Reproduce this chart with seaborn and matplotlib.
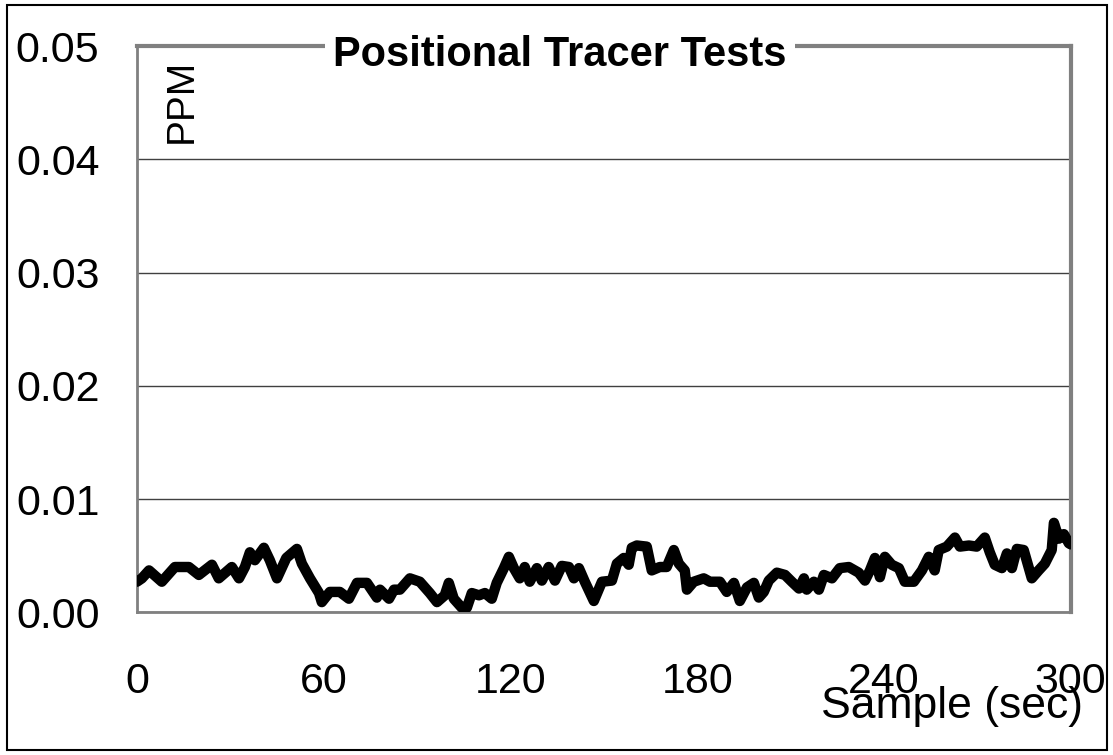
import numpy as np
import pandas as pd
import matplotlib
matplotlib.use("Agg")
import matplotlib.pyplot as plt
import seaborn as sns
from matplotlib.patches import Rectangle

# values (seconds, ppm)
seconds = [
    0, 1.6, 3.9, 8.0, 12.2, 16.7, 19.9, 24.1, 26.3, 30.5, 32.8, 34.7, 36.3,
    37.9, 40.8, 42.7, 45.0, 48.0, 51.4, 53.0, 55.6, 58.5, 59.4, 62.0, 65.2,
    68.1, 70.7, 73.9, 77.1, 78.1, 81.0, 82.6, 84.5, 87.7, 90.9, 94.1, 96.4,
    98.9, 100.2, 101.8, 104.4, 106.0, 107.6, 109.9, 111.8, 114.0, 115.6,
    117.9, 119.5, 121.1, 123.0, 124.6, 126.2, 128.5, 130.1, 132.3, 134.3,
    136.5, 138.8, 140.4, 142.0, 143.9, 146.8, 149.4, 152.6, 154.2, 156.4,
    158.0, 159.0, 160.6, 163.8, 165.4, 168.0, 170.2, 172.5, 174.1, 176.0,
    176.7, 178.9, 182.1, 184.1, 187.3, 189.5, 191.8, 193.7, 196.0, 198.2,
    199.8, 201.4, 203.0, 205.6, 208.2, 210.4, 212.7, 214.3, 215.2, 217.5,
    219.1, 220.7, 223.3, 225.8, 228.7, 231.9, 233.9, 235.5, 237.1, 238.7,
    240.3, 242.5, 244.8, 246.7, 249.6, 252.2, 254.4, 256.3, 257.6, 260.2,
    262.8, 264.4, 267.3, 269.8, 272.4, 274.0, 275.6, 277.9, 279.5, 281.1,
    282.7, 284.9, 287.5, 289.7, 291.7, 293.9, 294.6, 296.2, 297.8, 299.4, 300,
]
ppm = [
    0.0027, 0.0030, 0.0037, 0.0027, 0.0040, 0.0040, 0.0033, 0.0042, 0.0030,
    0.0040, 0.0030, 0.0040, 0.0053, 0.0046, 0.0057, 0.0046, 0.0030, 0.0048,
    0.0056, 0.0043, 0.0030, 0.0017, 0.0009, 0.0018, 0.0018, 0.0012, 0.0026,
    0.0026, 0.0013, 0.0020, 0.0012, 0.0020, 0.0020, 0.0030, 0.0027, 0.0017,
    0.0009, 0.0015, 0.0026, 0.0012, 0.0004, 0.0004, 0.0017, 0.0015, 0.0017,
    0.0012, 0.0026, 0.0039, 0.0049, 0.0039, 0.0030, 0.0040, 0.0027, 0.0039,
    0.0028, 0.0040, 0.0028, 0.0041, 0.0040, 0.0030, 0.0039, 0.0027, 0.0010,
    0.0027, 0.0028, 0.0043, 0.0048, 0.0042, 0.0057, 0.0059, 0.0058, 0.0037,
    0.0040, 0.0040, 0.0055, 0.0043, 0.0037, 0.0020, 0.0027, 0.0030, 0.0027,
    0.0027, 0.0018, 0.0026, 0.0010, 0.0022, 0.0026, 0.0013, 0.0018, 0.0028,
    0.0035, 0.0033, 0.0027, 0.0021, 0.0030, 0.0020, 0.0027, 0.0020, 0.0033,
    0.0030, 0.0039, 0.0040, 0.0035, 0.0028, 0.0037, 0.0048, 0.0031, 0.0049,
    0.0042, 0.0039, 0.0027, 0.0027, 0.0037, 0.0049, 0.0037, 0.0055, 0.0058,
    0.0066, 0.0058, 0.0059, 0.0058, 0.0066, 0.0053, 0.0042, 0.0039, 0.0052,
    0.0039, 0.0056, 0.0055, 0.0030, 0.0037, 0.0043, 0.0055, 0.0079, 0.0065,
    0.0069, 0.0061, 0.0060,
]
x_ticks = [0, 60, 120, 180, 240, 300]
y_ticks = [0.00, 0.01, 0.02, 0.03, 0.04, 0.05]

sns.set_style("white")
plt.rcParams["font.family"] = ["Liberation Sans", "DejaVu Sans"]
plt.rcParams["text.color"] = "black"

df = pd.DataFrame({"sec": seconds, "ppm": ppm})

fig = plt.figure(figsize=(11.13, 7.55), dpi=100)
ax = fig.add_axes([0.123, 0.189, 0.839, 0.750])

sns.lineplot(data=df, x="sec", y="ppm", ax=ax, color="black", lw=7.5,
             solid_joinstyle="round", solid_capstyle="round", zorder=3)

ax.set_xlim(0, 300)
ax.set_ylim(0, 0.05)
ax.set_xticks(x_ticks)
ax.set_yticks(y_ticks)
ax.set_xticklabels([str(v) for v in x_ticks])
ax.set_yticklabels([f"{v:.2f}" for v in y_ticks])
ax.tick_params(axis="both", labelsize=31, colors="#404040", labelcolor="black",
               direction="out", width=1.2)
ax.tick_params(axis="x", length=14, pad=22)
ax.tick_params(axis="y", length=10, pad=17)
ax.set_xlabel("")
ax.set_ylabel("")

ax.yaxis.grid(True, color="#404040", lw=1)
ax.xaxis.grid(False)

for side in ["top", "right"]:
    ax.spines[side].set_color("#808080")
    ax.spines[side].set_linewidth(3)
for side in ["left", "bottom"]:
    ax.spines[side].set_color("#808080")
    ax.spines[side].set_linewidth(2)

fig.text(0.503, 0.927, "Positional Tracer Tests", ha="center", va="center",
         fontsize=30, fontweight="bold", color="black",
         bbox=dict(facecolor="white", edgecolor="none", pad=6), zorder=5)
fig.text(0.163, 0.867, "PPM", rotation=90, ha="center", va="center",
         fontsize=28, color="black")
fig.text(0.973, 0.064, "Sample (sec)", ha="right", va="center",
         fontsize=32, color="black")

fig.patches.append(Rectangle((0.006, 0.006), 0.989, 0.988, transform=fig.transFigure,
                             fill=False, edgecolor="black", lw=1.5))

fig.savefig("out.png", dpi=100)
